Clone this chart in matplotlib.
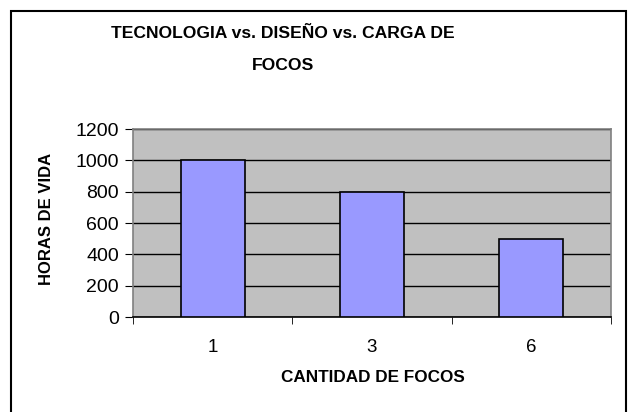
import matplotlib
matplotlib.use("Agg")
import matplotlib.pyplot as plt
from matplotlib.patches import Rectangle
from matplotlib.ticker import FixedLocator

categories = ["1", "3", "6"]
horas = [1000, 800, 500]
yticks = [0, 200, 400, 600, 800, 1000, 1200]

plt.rcParams['font.family'] = ['Liberation Sans', 'DejaVu Sans']

W, H = 628, 412
fig = plt.figure(figsize=(W/100, H/100), dpi=100)
fig.patch.set_facecolor('white')

# outer chart border
fig.add_artist(Rectangle((11/W, -0.05), (626-11)/W, 1.05 - 11/H,
                         transform=fig.transFigure, fill=False,
                         edgecolor='black', linewidth=1.5))

ax = fig.add_axes([133/W, (H-317)/H, (611-133)/W, (317-129)/H])
ax.set_facecolor('#C0C0C0')
x = list(range(len(categories)))
ax.bar(x, horas, width=0.4, color='#9999FF', edgecolor='black', linewidth=1.2, zorder=3)
ax.set_xlim(-0.5, len(categories) - 0.5)
ax.set_ylim(0, 1200)
ax.set_yticks(yticks)
ax.set_yticklabels([str(v) for v in yticks], fontsize=14)
ax.yaxis.grid(True, color='black', linewidth=1, zorder=1)
ax.set_axisbelow(True)

ax.set_xticks(x)
ax.set_xticklabels(categories, fontsize=13.5)
ax.tick_params(axis='x', which='major', length=0, pad=16)
ax.xaxis.set_minor_locator(FixedLocator([-0.5, 0.5, 1.5, 2.5]))
ax.tick_params(axis='x', which='minor', length=5, color='black', direction='out')
ax.tick_params(axis='y', length=6, color='black', direction='out', pad=4)

for s in ['top', 'right', 'left']:
    ax.spines[s].set_color('#808080')
    ax.spines[s].set_linewidth(1.2)
ax.spines['bottom'].set_color('black')
ax.spines['bottom'].set_linewidth(1.2)

fig.text(283/W, 1 - 33/H, "TECNOLOGIA vs. DISEÑO vs. CARGA DE", ha='center', va='center',
         fontsize=12.6, fontweight='bold')
fig.text(283/W, 1 - 65/H, "FOCOS", ha='center', va='center',
         fontsize=12.6, fontweight='bold')
fig.text(373/W, 1 - 377/H, "CANTIDAD DE FOCOS", ha='center', va='center',
         fontsize=12.3, fontweight='bold')
fig.text(47/W, 1 - 219/H, "HORAS DE VIDA", ha='center', va='center', rotation=90,
         fontsize=12, fontweight='bold')

fig.savefig("out.png", dpi=100)
